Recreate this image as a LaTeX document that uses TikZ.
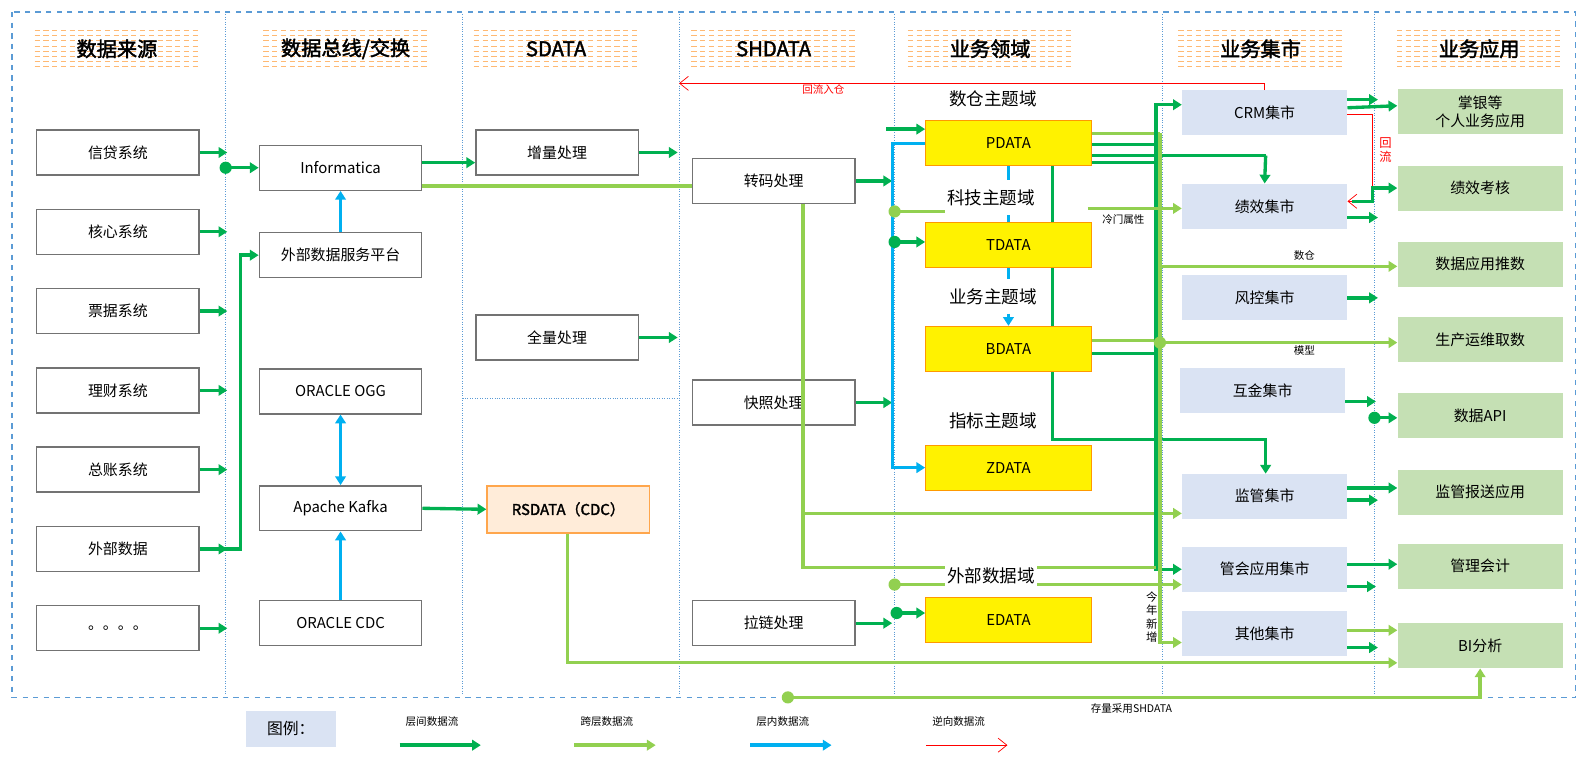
\documentclass[tikz,border=0pt]{standalone}
\usepackage{fontspec}
\setmainfont{Noto Sans CJK SC}[AutoFakeBold=2]
\usetikzlibrary{arrows.meta,backgrounds}
\usetikzlibrary{positioning}
\definecolor{dgreen}{HTML}{00B050}
\definecolor{lgreen}{HTML}{92D050}
\definecolor{lblue}{HTML}{00B0F0}
\definecolor{martfill}{HTML}{DAE3F3}
\definecolor{appfill}{HTML}{C5E0B4}
\definecolor{framecol}{HTML}{5B9BD5}
\tikzset{
  box/.style={rectangle,draw=black!55,thick,minimum width=3.25cm,minimum height=0.9cm,font=\fontsize{8.5}{10}\selectfont},
  dbox/.style={rectangle,draw=orange!80!yellow,fill=yellow,minimum width=3.32cm,minimum height=0.9cm,font=\fontsize{8.5}{10}\selectfont},
  mbox/.style={rectangle,fill=martfill,minimum width=3.3cm,minimum height=0.9cm,font=\fontsize{8.5}{10}\selectfont},
  abox/.style={rectangle,fill=appfill,minimum width=3.3cm,minimum height=0.9cm,align=center,font=\fontsize{8.5}{10}\selectfont},
  head/.style={font=\bfseries\fontsize{11.5}{13}\selectfont},
  dom/.style={font=\fontsize{10}{12}\selectfont,fill=white,inner sep=1pt},
  small/.style={font=\fontsize{6}{7}\selectfont},
  tip/.style={-{Triangle[length=5pt,width=6pt]}},
  flowA/.style={draw=dgreen,line width=1.9pt,tip},
  flowB/.style={draw=lgreen,line width=1.9pt,tip},
  flowC/.style={draw=lblue,line width=1.9pt,tip},
  flowR/.style={draw=red,thin,-{Straight Barb[length=5pt,width=8pt]}},
  lineA/.style={draw=dgreen,line width=1.9pt},
  lineB/.style={draw=lgreen,line width=1.9pt},
  sep/.style={draw=framecol,densely dotted,thin},
}
\begin{document}
\begin{tikzpicture}[x=0.02034cm,y=-0.02034cm]
\useasboundingbox (0,0) rectangle (1568,750);
\draw[framecol,dashed,thick] (12,12) rectangle (1550,686);
\foreach \x in {222,455,668,880,1143,1352}
  \draw[sep] (\x,14) -- (\x,684);
\draw[sep] (455,392) -- (668,392);

% headers
\foreach \x in {115,340,547,761,974,1240,1455}
  \foreach \y in {30,35,...,68}
    \draw[orange!55,densely dashed,very thin] (\x-81,\y) -- (\x+81,\y);
\node[head] (h1) at (115,48) {数据来源};
\node[head] (h2) at (340,48) {数据总线/交换};
\node[head] (h3) at (547,48) {SDATA};
\node[head] (h4) at (761,48) {SHDATA};
\node[head] (h5) at (974,48) {业务领域};
\node[head] (h6) at (1240,48) {业务集市};
\node[head] (h7) at (1455,48) {业务应用};

% sources
\foreach \t [count=\i] in {信贷系统,核心系统,票据系统,理财系统,总账系统,外部数据,。。。。} {
  \node[box] (src\i) at (116,{150+78*(\i-1)}) {\t};
  \draw[flowA] (src\i.east) -- ++(27,0);
}

% bus
\node[box] (inf) at (335,165) {Informatica};
\node[box] (ext) at (335,251) {外部数据服务平台};
\node[box] (ogg) at (335,385) {ORACLE OGG};
\node[box] (kfk) at (335,500) {Apache Kafka};
\node[box] (cdc) at (335,613) {ORACLE CDC};
\coordinate (dotI) at (222,165);
\fill[dgreen] (dotI) circle (6);
\draw[flowA] (dotI) -- (inf.west);
\draw[flowA] (src6.east) -- ++(40,0) |- (ext.west);
\draw[flowC] (ext.north) -- (inf.south);
\draw[flowC,{Triangle[length=5pt,width=6pt]}-{Triangle[length=5pt,width=6pt]}] (ogg.south) -- (kfk.north);
\draw[flowC] (cdc.north) -- (kfk.south);

% SDATA
\node[box] (inc) at (548,150) {增量处理};
\node[box] (full) at (548,332) {全量处理};
\node[box,draw=orange!70,fill=orange!15,minimum height=0.94cm,font=\bfseries\fontsize{8.5}{10}\selectfont] (rsd) at (559,501) {RSDATA（CDC）};
\draw[flowA] (inf.east |- 0,160) -- (inc.west |- 0,160);
\draw[flowA] (inc.east) -- ++(38,0);
\draw[flowA] (full.east) -- ++(38,0);
\draw[flowA] (kfk.east) -- (rsd.west);

% SHDATA
\node[box] (zm) at (761,178) {转码处理};
\node[box] (kz) at (761,396) {快照处理};
\node[box] (lz) at (761,613) {拉链处理};
\draw[lineB] (inf.east |- 0,183) -- (zm.west |- 0,183);
\draw[flowA] (zm.east) -- ++(36,0);
\draw[flowA] (kz.east) -- ++(36,0);
\draw[flowA] (lz.east) -- ++(36,0);

% domains
\node[dbox] (pd) at (992,141) {PDATA};
\node[dbox] (td) at (992,241) {TDATA};
\node[dbox] (bd) at (992,343) {BDATA};
\node[dbox] (zd) at (992,460) {ZDATA};
\node[dbox] (ed) at (992,610) {EDATA};
\node[dom] (l1) at (977,97) {数仓主题域};
\node[dom] (l2) at (975,195) {科技主题域};
\node[dom] (l3) at (977,292) {业务主题域};
\node[dom] (l4) at (977,414) {指标主题域};
\node[dom] (l5) at (975,566) {外部数据域};
\begin{pgfonlayer}{background}
\draw[lblue,line width=1.9pt,dash pattern=on 8pt off 6pt,tip] (pd.south) -- (bd.north);
\draw[lineA] (1035,163) -- (1035,432) -| (1245,455);
\end{pgfonlayer}
\draw[flowA] (1245,440) -- (1245,466);
\draw[flowC] (pd.west) -- (878,141) -- (878,460) -- (zd.west);
\draw[flowA] (872,127) -- (pd.west |- 0,127);
\coordinate (dotT) at (880,208);
\fill[lgreen] (dotT) circle (6);
\draw[lineB] (dotT) -- (l2.west |- dotT);
\coordinate (dotT2) at (880,238);
\fill[dgreen] (dotT2) circle (6);
\draw[flowA] (dotT2) -- (td.west |- dotT2);
\coordinate (dotE) at (880,575);
\fill[lgreen] (dotE) circle (6);
\draw[lineB] (dotE) -- (l5.west |- dotE);
\coordinate (dotE2) at (882,603);
\fill[dgreen] (dotE2) circle (6);
\draw[flowA] (dotE2) -- (ed.west |- dotE2);
\draw[lineB] (zm.south -| 790,0) -- (790,558) -- (l5.west |- 0,558);

% marts
\node[mbox] (crm) at (1244,111) {CRM集市};
\node[mbox] (jx) at (1244,203) {绩效集市};
\node[mbox] (fk) at (1244,293) {风控集市};
\node[mbox] (hj) at (1242,384) {互金集市};
\node[mbox] (jg) at (1244,488) {监管集市};
\node[mbox] (gh) at (1244,560) {管会应用集市};
\node[mbox] (qt) at (1244,623) {其他集市};
\draw[flowB] (790,505) -- (jg.west |- 0,505);

% apps
\node[abox] (a1) at (1456,110) {掌银等\\个人业务应用};
\node[abox] (a2) at (1456,185) {绩效考核};
\node[abox] (a3) at (1456,260) {数据应用推数};
\node[abox] (a4) at (1456,334) {生产运维取数};
\node[abox] (a5) at (1456,409) {数据API};
\node[abox] (a6) at (1456,484) {监管报送应用};
\node[abox] (a7) at (1456,557) {管理会计};
\node[abox] (a8) at (1456,635) {BI分析};

% domain -> marts
\draw[lineB] (pd.east |- 0,131) -- (1141,131);
\draw[lineA] (pd.east |- 0,142) -- (1137,142);
\draw[lineA] (pd.east |- 0,153) -- (1245,153);
\draw[flowA] (1245,153) -- (jx.north);
\draw[lineA] (pd.east |- 0,160) -- (1137,160);
\draw[lineA] (bd.east |- 0,348) -- (1137,348);
\draw[lineB] (bd.east |- 0,335) -- (1141,335);
\draw[flowA] (1137,560) |- (crm.west |- 0,103);
\draw[flowA] (1137,500) |- (gh.west);
\draw[flowB] (1141,131) |- (qt.west |- 0,632);
\draw[flowB] (1070,205) -- (jx.west |- 0,205);
\node[small] (cm) at (1105,216) {冷门属性};
\draw[flowB] (1141,262) -- (a3.west |- 0,262);
\node[small] (sc) at (1283,251) {数仓};
\coordinate (dotB) at (1141,337);
\fill[lgreen] (dotB) circle (6);
\draw[flowB] (dotB) -- (a4.west |- dotB);
\node[small] (mx) at (1283,345) {模型};
\draw[lineB] (l5.east |- 0,558) -- (1137,558);
\draw[flowB] (l5.east |- 0,575) -- (gh.west |- 0,575);
\node[small,align=center,inner sep=0pt,font=\fontsize{6.5}{7.5}\selectfont] (xz) at (1133,607) {今\\年\\新\\增};

% marts -> apps
\draw[flowA] (crm.east |- 0,98) -- ++(30,0);
\draw[flowA] (crm.east |- 0,106) -- (a1.west |- 0,104);
\draw[flowA] (jx.east |- 0,214) -- ++(30,0);
\draw[flowR] (crm.east |- 0,112) -- (1350,112) -- (1350,198) -- (jx.east |- 0,198);
\draw[flowA] (1330,198) -- (1350,198) -- (1350,185) -- (a2.west);
\node[text=red,align=center,inner sep=0pt,font=\fontsize{7}{8}\selectfont] (hl) at (1363,148) {回\\流};
\draw[flowA] (fk.east) -- ++(30,0);
\draw[flowA] (hj.east |- 0,395) -- ++(30,0);
\coordinate (dotH) at (1352,411);
\fill[dgreen] (dotH) circle (6);
\draw[flowA] (dotH) -- (a5.west |- dotH);
\draw[flowA] (jg.east |- 0,480) -- (a6.west |- 0,480);
\draw[flowA] (jg.east |- 0,492) -- ++(30,0);
\draw[flowA] (gh.east |- 0,555) -- (a7.west |- 0,555);
\draw[flowA] (gh.east |- 0,577) -- ++(28,0);
\draw[flowB] (qt.east |- 0,620) -- (a8.west |- 0,620);
\draw[flowA] (qt.east |- 0,637) -- ++(30,0);

% back flows
\draw[flowR] (crm.north) |- (668,82);
\node[text=red,small] (hlrc) at (810,88) {回流入仓};
\draw[flowB] (rsd.south -| 558,0) -- (558,652) -- (a8.west |- 0,652);
\coordinate (dotS) at (775,686);
\fill[lgreen] (dotS) circle (6);
\draw[flowB] (dotS) -| (a8.south);
\node[small] (clsh) at (1113,697) {存量采用SHDATA};

% legend
\node[fill=martfill,minimum width=1.8cm,minimum height=0.72cm,font=\fontsize{9}{10}\selectfont] (lg) at (286,717) {图例：};
\foreach \x/\s/\t in {393/flowA/层间数据流,565/flowB/跨层数据流,738/flowC/层内数据流,911/flowR/逆向数据流} {
  \draw[\s] (\x,733) -- (\x+80,733);
  \node[small] at (\x+32,710) {\t};
}
\end{tikzpicture}
\end{document}
